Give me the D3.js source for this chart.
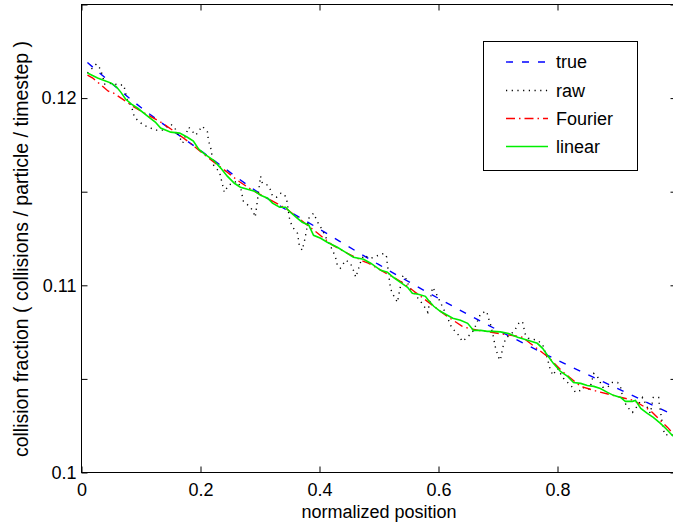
<!DOCTYPE html>
<html><head><meta charset="utf-8">
<script src="https://cdn.jsdelivr.net/npm/d3@7"></script>
<style>
body{margin:0;background:#fff}
svg{display:block}
text{font-family:"Liberation Sans",Arial,Helvetica,sans-serif;fill:#000}
</style>
</head><body>
<svg id="c" width="673" height="525"></svg>
<script>
// ---- data ----
const xTicks = [0, 0.2, 0.4, 0.6, 0.8, 1];
const xTickLabels = ["0", "0.2", "0.4", "0.6", "0.8", ""];
const yTicks = [0.1, 0.105, 0.11, 0.115, 0.12, 0.125];
const yTickLabels = ["0.1", "", "0.11", "", "0.12", ""];
const seriesNames = ["true", "raw", "Fourier", "linear"];
const xLabel = "normalized position";
const yLabel = "collision fraction ( collisions / particle / timestep )";

const trueX = [0.01, 0.1, 0.2, 0.3, 0.4, 0.5, 0.6, 0.7, 0.8, 0.9, 1.0];
const trueY = [0.1219, 0.1195, 0.1172, 0.1149, 0.1130, 0.1111, 0.1093, 0.1076, 0.1060, 0.1045, 0.1030];

const rawX = [0.010,0.025,0.032,0.039,0.052,0.061,0.071,0.077,0.084,0.089,0.096,0.104,0.116,0.126,0.136,0.150,0.156,0.170,0.180,0.192,
  0.203,0.212,0.213,0.217,0.222,0.232,0.240,0.247,0.261,0.267,0.272,0.284,0.289,0.292,0.301,0.304,0.313,0.318,0.321,0.328,
  0.335,0.341,0.345,0.350,0.355,0.363,0.366,0.371,0.375,0.382,0.390,0.397,0.405,0.413,0.422,0.427,0.430,0.435,0.444,0.452,
  0.457,0.461,0.469,0.474,0.486,0.499,0.509,0.513,0.514,0.516,0.518,0.521,0.526,0.531,0.535,0.540,0.543,0.551,0.563,0.575,
  0.582,0.590,0.595,0.608,0.617,0.622,0.634,0.640,0.650,0.659,0.671,0.681,0.684,0.687,0.692,0.696,0.701,0.704,0.708,0.713,
  0.723,0.729,0.735,0.741,0.746,0.751,0.760,0.766,0.775,0.782,0.787,0.792,0.800,0.810,0.817,0.825,0.830,0.839,0.842,0.854,
  0.861,0.867,0.876,0.884,0.892,0.901,0.906,0.911,0.918,0.926,0.935,0.943,0.951,0.956,0.961,0.970,0.971,0.978,0.982,0.988,
  0.995,1.000];
const rawY = [0.12134,0.12182,0.12155,0.12075,0.12080,0.12070,0.12070,0.11989,0.11957,0.11898,0.11877,0.11856,0.11840,0.11829,0.11829,0.11861,0.11845,0.11759,0.11845,0.11802,
  0.11850,0.11818,0.11775,0.11738,0.11642,0.11604,0.11497,0.11535,0.11556,0.11529,0.11449,0.11417,0.11390,0.11364,0.11583,0.11545,0.11535,0.11508,0.11476,0.11471,
  0.11492,0.11487,0.11455,0.11348,0.11310,0.11278,0.11214,0.11187,0.11241,0.11358,0.11385,0.11337,0.11294,0.11241,0.11187,0.11150,0.11107,0.11091,0.11134,0.11118,
  0.11080,0.11043,0.11123,0.11160,0.11144,0.11160,0.11171,0.11150,0.11112,0.11070,0.11011,0.10968,0.10936,0.10909,0.10979,0.11048,0.11053,0.10989,0.10941,0.10893,
  0.10856,0.10989,0.10963,0.10877,0.10813,0.10775,0.10733,0.10700,0.10727,0.10759,0.10850,0.10861,0.10824,0.10797,0.10727,0.10663,0.10615,0.10599,0.10668,0.10717,
  0.10743,0.10765,0.10797,0.10807,0.10738,0.10717,0.10711,0.10706,0.10684,0.10620,0.10561,0.10519,0.10556,0.10503,0.10481,0.10455,0.10428,0.10439,0.10455,0.10444,
  0.10529,0.10513,0.10455,0.10455,0.10481,0.10481,0.10455,0.10385,0.10348,0.10321,0.10358,0.10401,0.10348,0.10316,0.10401,0.10401,0.10369,0.10225,0.10198,0.10209,
  0.10198,0.10171];

const fourierX = [0.010,0.019,0.029,0.045,0.054,0.074,0.086,0.103,0.133,0.158,0.183,0.203,0.245,0.262,0.287,0.296,0.318,0.343,0.397,0.422,
  0.447,0.474,0.482,0.533,0.541,0.561,0.612,0.617,0.640,0.645,0.667,0.679,0.733,0.741,0.785,0.808,0.839,0.867,0.901,0.928,
  0.956,0.978,0.985,1.000];
const fourierY = [0.12123,0.12107,0.12080,0.12037,0.12027,0.11984,0.11957,0.11925,0.11872,0.11818,0.11759,0.11706,0.11604,0.11561,0.11508,0.11492,0.11455,0.11412,0.11278,0.11214,
  0.11171,0.11128,0.11118,0.11027,0.11011,0.10963,0.10840,0.10829,0.10781,0.10775,0.10759,0.10754,0.10727,0.10722,0.10615,0.10540,0.10460,0.10433,0.10406,0.10385,
  0.10332,0.10262,0.10241,0.10187];

const linearX = [0.010,0.027,0.037,0.050,0.059,0.066,0.074,0.084,0.094,0.111,0.124,0.133,0.150,0.165,0.178,0.188,0.197,0.207,0.222,0.234,
  0.245,0.257,0.267,0.279,0.291,0.301,0.313,0.321,0.333,0.343,0.351,0.363,0.371,0.382,0.390,0.402,0.413,0.430,0.444,0.457,
  0.474,0.486,0.503,0.514,0.524,0.536,0.548,0.556,0.566,0.578,0.583,0.592,0.603,0.615,0.624,0.637,0.649,0.659,0.671,0.682,
  0.692,0.704,0.718,0.733,0.750,0.766,0.775,0.783,0.793,0.805,0.817,0.827,0.839,0.850,0.861,0.872,0.884,0.894,0.906,0.914,
  0.926,0.931,0.940,0.951,0.961,0.973,0.982,0.993,1.000];
const linearY = [0.12134,0.12107,0.12096,0.12080,0.12059,0.12032,0.11995,0.11968,0.11947,0.11904,0.11872,0.11840,0.11818,0.11813,0.11791,0.11770,0.11727,0.11701,0.11668,0.11626,
  0.11583,0.11545,0.11524,0.11513,0.11503,0.11481,0.11465,0.11439,0.11417,0.11417,0.11390,0.11358,0.11337,0.11321,0.11267,0.11251,0.11230,0.11203,0.11176,0.11150,
  0.11139,0.11118,0.11080,0.11070,0.11043,0.11016,0.10989,0.10957,0.10952,0.10941,0.10920,0.10888,0.10861,0.10840,0.10824,0.10813,0.10797,0.10759,0.10759,0.10754,
  0.10754,0.10751,0.10743,0.10722,0.10706,0.10690,0.10663,0.10626,0.10583,0.10540,0.10513,0.10481,0.10476,0.10465,0.10460,0.10449,0.10428,0.10412,0.10401,0.10380,
  0.10380,0.10385,0.10342,0.10316,0.10294,0.10262,0.10235,0.10198,0.10187];

const seriesColors = ["#0000ff", "#000000", "#ff0000", "#00ee00"];
const seriesDash = ["7,9", "1.2,4.5", "9,4,1.5,4", null];

// ---- chart ----
const svg = d3.select("#c");
const x = d3.scaleLinear().domain([0, 1]).range([81.5, 676.5]);
const y = d3.scaleLinear().domain([0.1, 0.125]).range([472.5, 4.5]);

svg.append("defs").append("clipPath").attr("id", "clip")
  .append("rect").attr("x", x(0)).attr("y", y(0.125)).attr("width", x(1) - x(0)).attr("height", y(0.1) - y(0.125));

const data = [
  d3.zip(trueX, trueY),
  d3.zip(rawX, rawY),
  d3.zip(fourierX, fourierY),
  d3.zip(linearX, linearY)
];
const curves = [d3.curveMonotoneX, d3.curveLinear, d3.curveLinear, d3.curveLinear];

const plot = svg.append("g").attr("clip-path", "url(#clip)");
data.forEach((d, i) => {
  const line = d3.line().x(p => x(p[0])).y(p => y(p[1])).curve(curves[i]);
  plot.append("path").datum(d).attr("d", line)
    .attr("fill", "none").attr("stroke", seriesColors[i])
    .attr("stroke-width", i === 3 ? 1.6 : 1.4)
    .attr("stroke-dasharray", seriesDash[i]);
});

// axes (ticks inward, box)
const fmtX = d => xTickLabels[xTicks.indexOf(d)];
const fmtY = d => yTickLabels[yTicks.indexOf(d)];
const axStyle = g => {
  g.selectAll(".domain").remove();
  g.selectAll("line").attr("stroke", "#000");
  g.selectAll("text").attr("font-size", "18px").attr("font-family", '"Liberation Sans",Arial,sans-serif');
};
svg.append("g").attr("transform", `translate(0,${y(0.1)})`)
  .call(d3.axisBottom(x).tickValues(xTicks).tickSize(-6).tickPadding(11).tickFormat(fmtX)).call(axStyle);
svg.append("g").attr("transform", `translate(0,${y(0.125)})`)
  .call(d3.axisTop(x).tickValues(xTicks).tickSize(-6).tickFormat(() => "")).call(axStyle);
svg.append("g").attr("transform", `translate(${x(0)},0)`)
  .call(d3.axisLeft(y).tickValues(yTicks).tickSize(-6).tickPadding(5).tickFormat(fmtY)).call(axStyle);
svg.append("g").attr("transform", `translate(${x(1)},0)`)
  .call(d3.axisRight(y).tickValues(yTicks).tickSize(-6).tickFormat(() => "")).call(axStyle);

svg.append("rect").attr("x", x(0)).attr("y", y(0.125))
  .attr("width", x(1) - x(0)).attr("height", y(0.1) - y(0.125))
  .attr("fill", "none").attr("stroke", "#000").attr("stroke-width", 1);

// axis labels
svg.append("text").attr("x", (x(0) + x(1)) / 2).attr("y", 518)
  .attr("text-anchor", "middle").attr("font-size", "18px").text(xLabel);
svg.append("text").attr("transform", `translate(28,249) rotate(-90)`)
  .attr("text-anchor", "middle").attr("font-size", "19.5px").text(yLabel);

// legend
const lg = svg.append("g");
lg.append("rect").attr("x", 483.5).attr("y", 41.5).attr("width", 154).attr("height", 129)
  .attr("fill", "#fff").attr("stroke", "#000").attr("stroke-width", 1);
const rowY = [62, 90.5, 118.5, 146.5];
seriesNames.forEach((n, i) => {
  lg.append("line").attr("x1", 506).attr("x2", 548).attr("y1", rowY[i]).attr("y2", rowY[i])
    .attr("stroke", seriesColors[i]).attr("stroke-width", i === 3 ? 1.6 : 1.4)
    .attr("stroke-dasharray", seriesDash[i]);
  lg.append("text").attr("x", 556).attr("y", rowY[i]).attr("dy", "0.35em")
    .attr("font-size", "18px").text(n);
});
</script>
</body></html>
